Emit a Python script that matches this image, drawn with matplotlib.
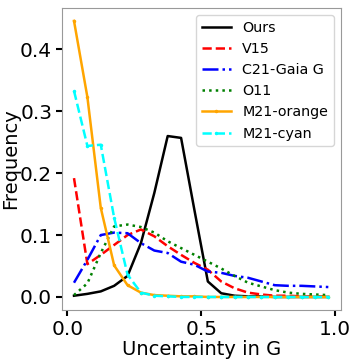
import numpy as np
import matplotlib
matplotlib.use("Agg")
import matplotlib.pyplot as plt

bins = np.arange(0.025, 1.0, 0.05)

ours = [0.002, 0.005, 0.009, 0.018, 0.034, 0.087, 0.168, 0.260, 0.257, 0.140,
        0.025, 0.006, 0.002, 0.001, 0.001, 0.0, 0.0, 0.0, 0.0, 0.0]
v15 = [0.192, 0.053, 0.068, 0.084, 0.100, 0.109, 0.098, 0.082, 0.068, 0.055,
       0.044, 0.025, 0.014, 0.007, 0.004, 0.002, 0.002, 0.001, 0.001, 0.001]
c21 = [0.023, 0.060, 0.100, 0.104, 0.103, 0.087, 0.075, 0.071, 0.057, 0.052,
       0.041, 0.039, 0.034, 0.031, 0.025, 0.019, 0.018, 0.018, 0.017, 0.016]
o11 = [0.003, 0.022, 0.071, 0.114, 0.117, 0.113, 0.104, 0.090, 0.079, 0.068,
       0.057, 0.046, 0.034, 0.023, 0.017, 0.011, 0.007, 0.005, 0.004, 0.003]
m21_orange = [0.446, 0.323, 0.144, 0.051, 0.019, 0.007, 0.003, 0.002, 0.001, 0.001,
              0.0, 0.0, 0.0, 0.0, 0.0, 0.0, 0.0, 0.0, 0.0, 0.0]
m21_cyan = [0.333, 0.244, 0.246, 0.128, 0.036, 0.007, 0.002, 0.001, 0.0, 0.0,
            0.0, 0.0, 0.0, 0.0, 0.0, 0.0, 0.0, 0.0, 0.0, 0.0]

fig = plt.figure(figsize=(3.54, 3.6), dpi=100)
ax = fig.add_axes([0.175, 0.139, 0.788, 0.839])

lw = 1.8
ax.plot(bins, ours, color='black', lw=lw, ls='-', label='Ours')
ax.plot(bins, v15, color='red', lw=lw, ls='--', label='V15')
ax.plot(bins, c21, color='blue', lw=lw, ls='-.', label='C21-Gaia G')
ax.plot(bins, o11, color='green', lw=lw, ls=':', label='O11')
ax.plot(bins, m21_orange, color='orange', lw=lw, ls='-', marker='.', ms=3, label='M21-orange')
ax.plot(bins, m21_cyan, color='cyan', lw=lw, ls='--', marker='.', ms=3, label='M21-cyan')

ax.set_xlim(-0.02, 1.022)
ax.set_ylim(-0.021, 0.467)
ax.set_xticks([0.0, 0.5, 1.0])
ax.set_yticks([0.0, 0.1, 0.2, 0.3, 0.4])
ax.tick_params(labelsize=14.5, width=1.5, length=4, pad=3)
for s in ax.spines.values():
    s.set_color('#999999')
ax.set_xlabel('Uncertainty in G', fontsize=14, labelpad=1)
ax.set_ylabel('Frequency', fontsize=14, labelpad=0)
ax.legend(loc='upper right', fontsize=10.3)

fig.savefig('out.png', dpi=100)
